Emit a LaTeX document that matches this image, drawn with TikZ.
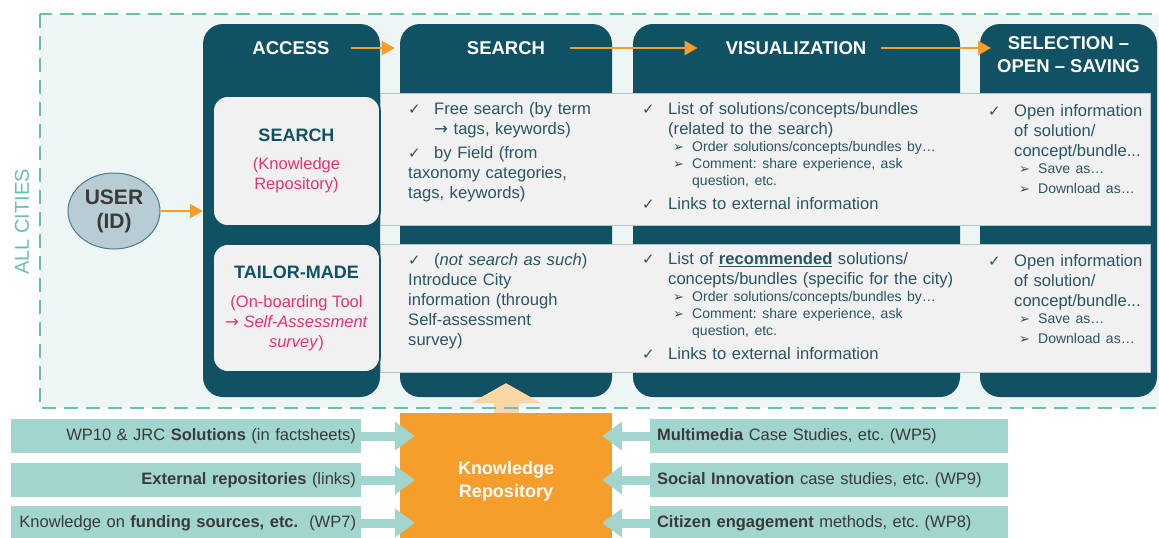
\documentclass[tikz,border=0pt]{standalone}
\usepackage{fontspec}
\setmainfont{Liberation Sans}
\newfontfamily\symfont{DejaVu Sans}
\usetikzlibrary{shapes.geometric,arrows.meta}

\definecolor{deepteal}{HTML}{105263}
\definecolor{paleteal}{HTML}{EDF6F5}
\definecolor{dashteal}{HTML}{6BBFB2}
\definecolor{rowgray}{HTML}{F1F1F1}
\definecolor{rowedge}{HTML}{B4C4C8}
\definecolor{inktext}{HTML}{2A5562}
\definecolor{pinkish}{HTML}{E5336F}
\definecolor{orng}{HTML}{F59E2B}
\definecolor{paleorng}{HTML}{FDD6A6}
\definecolor{srcfill}{HTML}{A3D5CF}
\definecolor{srctext}{HTML}{3A3A3A}
\definecolor{userfill}{HTML}{B8CDD3}
\definecolor{useredge}{HTML}{4B7C88}

\frenchspacing
% check-mark item and arrow sub-item inside the text blocks
\newcommand\chk[1][4pt]{\par\vspace{#1}\fontsize{16.6}{20}\selectfont
  \hangindent=26pt\hangafter=1\noindent
  \makebox[26pt][l]{\symfont\fontsize{15}{15}\selectfont ✓}}
\newcommand\subarr{\par\fontsize{14}{17}\selectfont
  \hangindent=50pt\hangafter=1\noindent
  \hspace*{31pt}\makebox[19pt][l]{\symfont\fontsize{13}{13}\selectfont ➢}}
\newcommand\toarr{{\symfont →}}

\tikzset{
  col/.style={fill=deepteal, rounded corners=20pt, minimum width=#1,
    minimum height=373pt, inner sep=0pt},
  hdr/.style={text=white, font=\fontsize{18.5}{23}\selectfont\bfseries,
    align=center, inner sep=0pt},
  rowband/.style={fill=rowgray, draw=rowedge, line width=0.8pt,
    minimum width=770pt, minimum height=#1, inner sep=0pt},
  pickbox/.style={fill=rowgray, draw=deepteal, line width=1.6pt,
    rounded corners=15pt, minimum width=167pt, minimum height=#1,
    align=center, text=pinkish, font=\fontsize{16.5}{20}\selectfont},
  blk/.style={anchor=north west, inner sep=0pt, text=inktext,
    text width=#1, font=\fontsize{16.6}{20}\selectfont},
  srcl/.style={fill=srcfill, minimum height=34pt, inner xsep=5pt,
    text width=340pt, align=right, text=srctext,
    font=\fontsize{16.5}{20}\selectfont},
  srcr/.style={fill=srcfill, minimum height=34pt, inner xsep=7pt,
    text width=344pt, align=left, text=srctext,
    font=\fontsize{16.5}{20}\selectfont},
  flow/.style={draw=orng, line width=2.5pt, -{Triangle[width=14pt,length=13pt]}},
  feed/.style={draw=srcfill, line width=9pt, -{Triangle[width=28pt,length=20pt]}},
  rise/.style={draw=paleorng, line width=25pt, -{Triangle[width=70pt,length=20pt]}}
}

\begin{document}
\begin{tikzpicture}[x=1pt,y=-1pt]
\useasboundingbox (0,0) rectangle (1159,538);

% all cities area
\fill[paleteal] (40,14) rectangle (1170,408);
\node[rotate=90, inner sep=0pt, text=dashteal, font=\fontsize{20}{20}\selectfont] (allc) at (22,222) {ALL CITIES};

% columns
\node[col=177pt] (access) at (291.5,210.5) {};
\node[col=212pt] (search) at (506,210.5) {};
\node[col=327pt] (visual) at (796.5,210.5) {};
\node[col=177pt] (select) at (1068.5,210.5) {};

\node[hdr] (hacc) at (291,48) {ACCESS};
\node[hdr] (hsrch) at (506,48) {SEARCH};
\node[hdr] (hvis) at (796,48) {VISUALIZATION};
\node[hdr] (hsel) at (1068.5,54.5) {SELECTION –\\OPEN – SAVING};

\draw[flow, shorten <=21pt, shorten >=72pt] (hacc.east) -- (hsrch.west);
\draw[flow, shorten <=25pt, shorten >=28pt] (hsrch.east) -- (hvis.west);
\draw[flow, shorten <=15pt, shorten >=6pt] (hvis.east) -- (hvis.east -| hsel.west);

% rows
\node[rowband=132pt] (band1) at (765,159) {};
\node[rowband=128pt] (band2) at (765,308) {};

\node[pickbox=130pt] (srch) at (296.5,161)
  {{\color{deepteal}\bfseries\fontsize{18}{20}\selectfont SEARCH}\\[8pt]
   (Knowledge\\Repository)};
\node[pickbox=128pt] (tail) at (296.5,308)
  {{\color{deepteal}\bfseries\fontsize{18}{20}\selectfont TAILOR-MADE}\\[9pt]
   (On-boarding Tool\\\toarr\ \textit{Self-Assessment}\\\textit{survey})};

% user
\node[ellipse, fill=userfill, draw=useredge, line width=1pt,
  minimum width=92pt, minimum height=76pt, inner sep=0pt, align=center,
  text=srctext, font=\fontsize{21}{24}\selectfont\bfseries] (user) at (114,211) {USER\\(ID)};
\draw[flow] (user) -- (user -| access.west);

% row texts
\node[blk=220pt] (s1) at (408,94)
  {\chk[0pt]Free search (by term\newline \toarr\ tags, keywords)%
   \chk by Field (from\newline taxonomy categories,\newline tags, keywords)};
\node[blk=340pt] (v1) at (642,94)
  {\chk[0pt]List of solutions/concepts/bundles\newline (related to the search)%
   \subarr Order solutions/concepts/bundles by…%
   \subarr Comment: share experience, ask\newline question, etc.%
   \chk Links to external information};
\node[blk=170pt] (c1) at (988,96)
  {\chk[0pt]Open information\newline of solution/\newline concept/bundle...%
   \subarr Save as…\subarr Download as…};

\node[blk=220pt] (s2) at (408,245)
  {\chk[0pt](\textit{not search as such})\newline Introduce City\newline
   information (through\newline Self-assessment\newline survey)};
\node[blk=340pt] (v2) at (642,244)
  {\chk[0pt]List of \textbf{\underline{recommended}} solutions/\newline
   concepts/bundles (specific for the city)%
   \subarr Order solutions/concepts/bundles by…%
   \subarr Comment: share experience, ask\newline question, etc.%
   \chk Links to external information};
\node[blk=170pt] (c2) at (988,246)
  {\chk[0pt]Open information\newline of solution/\newline concept/bundle...%
   \subarr Save as…\subarr Download as…};

% knowledge repository
\node[fill=orng, minimum width=212pt, minimum height=136pt, align=center,
  text=white, font=\fontsize{18}{23}\selectfont\bfseries] (kr) at (506,481)
  {Knowledge\\Repository};
\draw[rise, shorten >=-14pt] (kr.north) -- (kr.north |- search.south);

\node[srcl] (w1) at (186,436) {WP10 \& JRC \textbf{Solutions} (in factsheets)};
\node[srcl] (w2) at (186,480) {\textbf{External repositories} (links)};
\node[srcl] (w3) at (186,523) {Knowledge on \textbf{funding sources, etc.}\ \ (WP7)};
\node[srcr] (e1) at (829,436) {\textbf{Multimedia} Case Studies, etc. (WP5)};
\node[srcr] (e2) at (829,480) {\textbf{Social Innovation} case studies, etc. (WP9)};
\node[srcr] (e3) at (829,523) {\textbf{Citizen engagement} methods, etc. (WP8)};

\draw[feed, shorten >=-15pt] (w1.east) -- (w1.east -| kr.west);
\draw[feed, shorten >=-15pt] (w2.east) -- (w2.east -| kr.west);
\draw[feed, shorten >=-15pt] (w3.east) -- (w3.east -| kr.west);
\draw[feed, shorten >=-10pt] (e1.west) -- (e1.west -| kr.east);
\draw[feed, shorten >=-10pt] (e2.west) -- (e2.west -| kr.east);
\draw[feed, shorten >=-10pt] (e3.west) -- (e3.west -| kr.east);

% dashed border
\draw[dashteal, line width=2.5pt, dash pattern=on 14pt off 8pt] (40,14) rectangle (1170,408);
\end{tikzpicture}
\end{document}
